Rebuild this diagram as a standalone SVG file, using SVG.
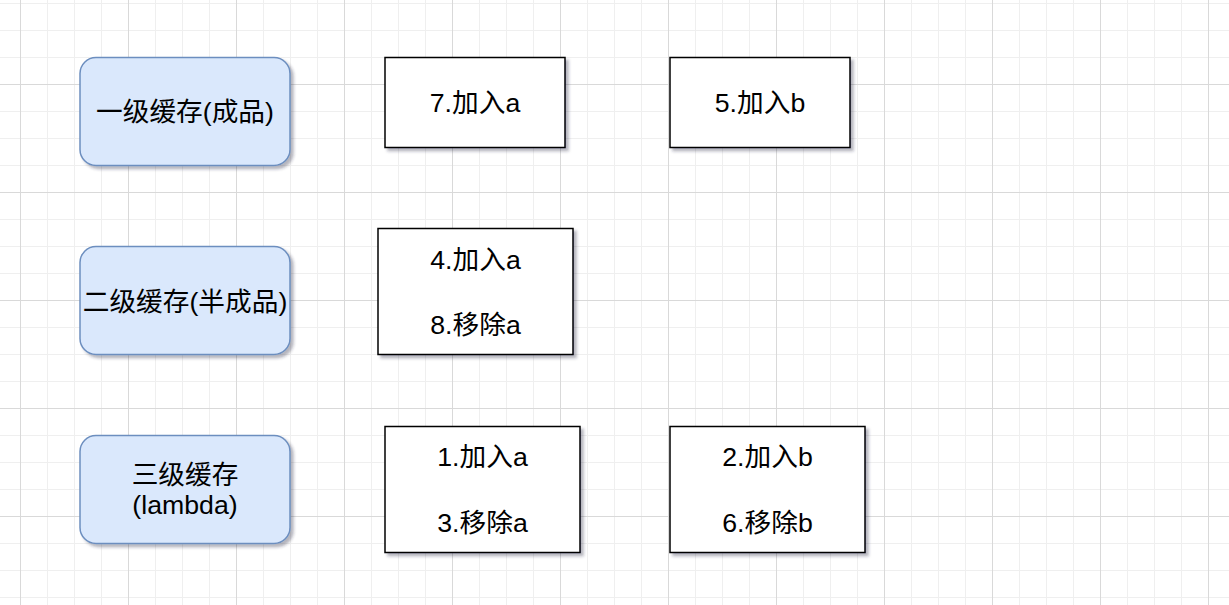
<svg xmlns="http://www.w3.org/2000/svg" width="1229" height="605" viewBox="0 0 1229 605">
  <defs>
    <pattern id="grid" x="20" y="84" width="108" height="108" patternUnits="userSpaceOnUse">
      <path d="M27.5 0V108M54.5 0V108M81.5 0V108M0 27.5H108M0 54.5H108M0 81.5H108" stroke="#efefef" stroke-width="1" fill="none"/>
      <path d="M0.5 0V108M0 0.5H108" stroke="#d9d9d9" stroke-width="1" fill="none"/>
    </pattern>
    <filter id="shadow" x="-10%" y="-10%" width="130%" height="130%">
      <feDropShadow dx="3" dy="3" stdDeviation="1.5" flood-color="#2a2a40" flood-opacity="0.35"/>
    </filter>
  </defs>
  <style>
    .cache { fill: #dae8fc; stroke: #6c8ebf; stroke-width: 1.5; filter: url(#shadow); }
    .box { fill: #ffffff; stroke: #000000; stroke-width: 1.5; filter: url(#shadow); }
    text { font-family: "Liberation Sans", "Noto Sans CJK SC", sans-serif; font-size: 26.7px; fill: #000000; text-anchor: middle; }
  </style>
  <rect width="1229" height="605" fill="#ffffff"/>
  <rect width="1229" height="605" fill="url(#grid)"/>

  <g id="connectors"></g>

  <g id="cache1">
    <rect class="cache" x="80" y="57.5" width="210" height="108" rx="16" ry="16"/>
    <text x="185" y="121">一级缓存(成品)</text>
  </g>
  <g id="cache2">
    <rect class="cache" x="80" y="246.5" width="210" height="108" rx="16" ry="16"/>
    <text x="185" y="311">二级缓存(半成品)</text>
  </g>
  <g id="cache3">
    <rect class="cache" x="80" y="435.5" width="210" height="108" rx="16" ry="16"/>
    <text x="185" y="484">三级缓存</text>
    <text x="185" y="514">(lambda)</text>
  </g>

  <g id="box-7a">
    <rect class="box" x="385" y="57.5" width="180" height="90"/>
    <text x="475" y="111.5">7.加入a</text>
  </g>
  <g id="box-5b">
    <rect class="box" x="670" y="57.5" width="180" height="90"/>
    <text x="760" y="111.5">5.加入b</text>
  </g>
  <g id="box-4a-8a">
    <rect class="box" x="378" y="228.5" width="195" height="126"/>
    <text x="475.5" y="268.5">4.加入a</text>
    <text x="475.5" y="333.5">8.移除a</text>
  </g>
  <g id="box-1a-3a">
    <rect class="box" x="385" y="426.5" width="195" height="126"/>
    <text x="482.5" y="466">1.加入a</text>
    <text x="482.5" y="531.5">3.移除a</text>
  </g>
  <g id="box-2b-6b">
    <rect class="box" x="670" y="426.5" width="195" height="126"/>
    <text x="767.5" y="466">2.加入b</text>
    <text x="767.5" y="531.5">6.移除b</text>
  </g>
</svg>
